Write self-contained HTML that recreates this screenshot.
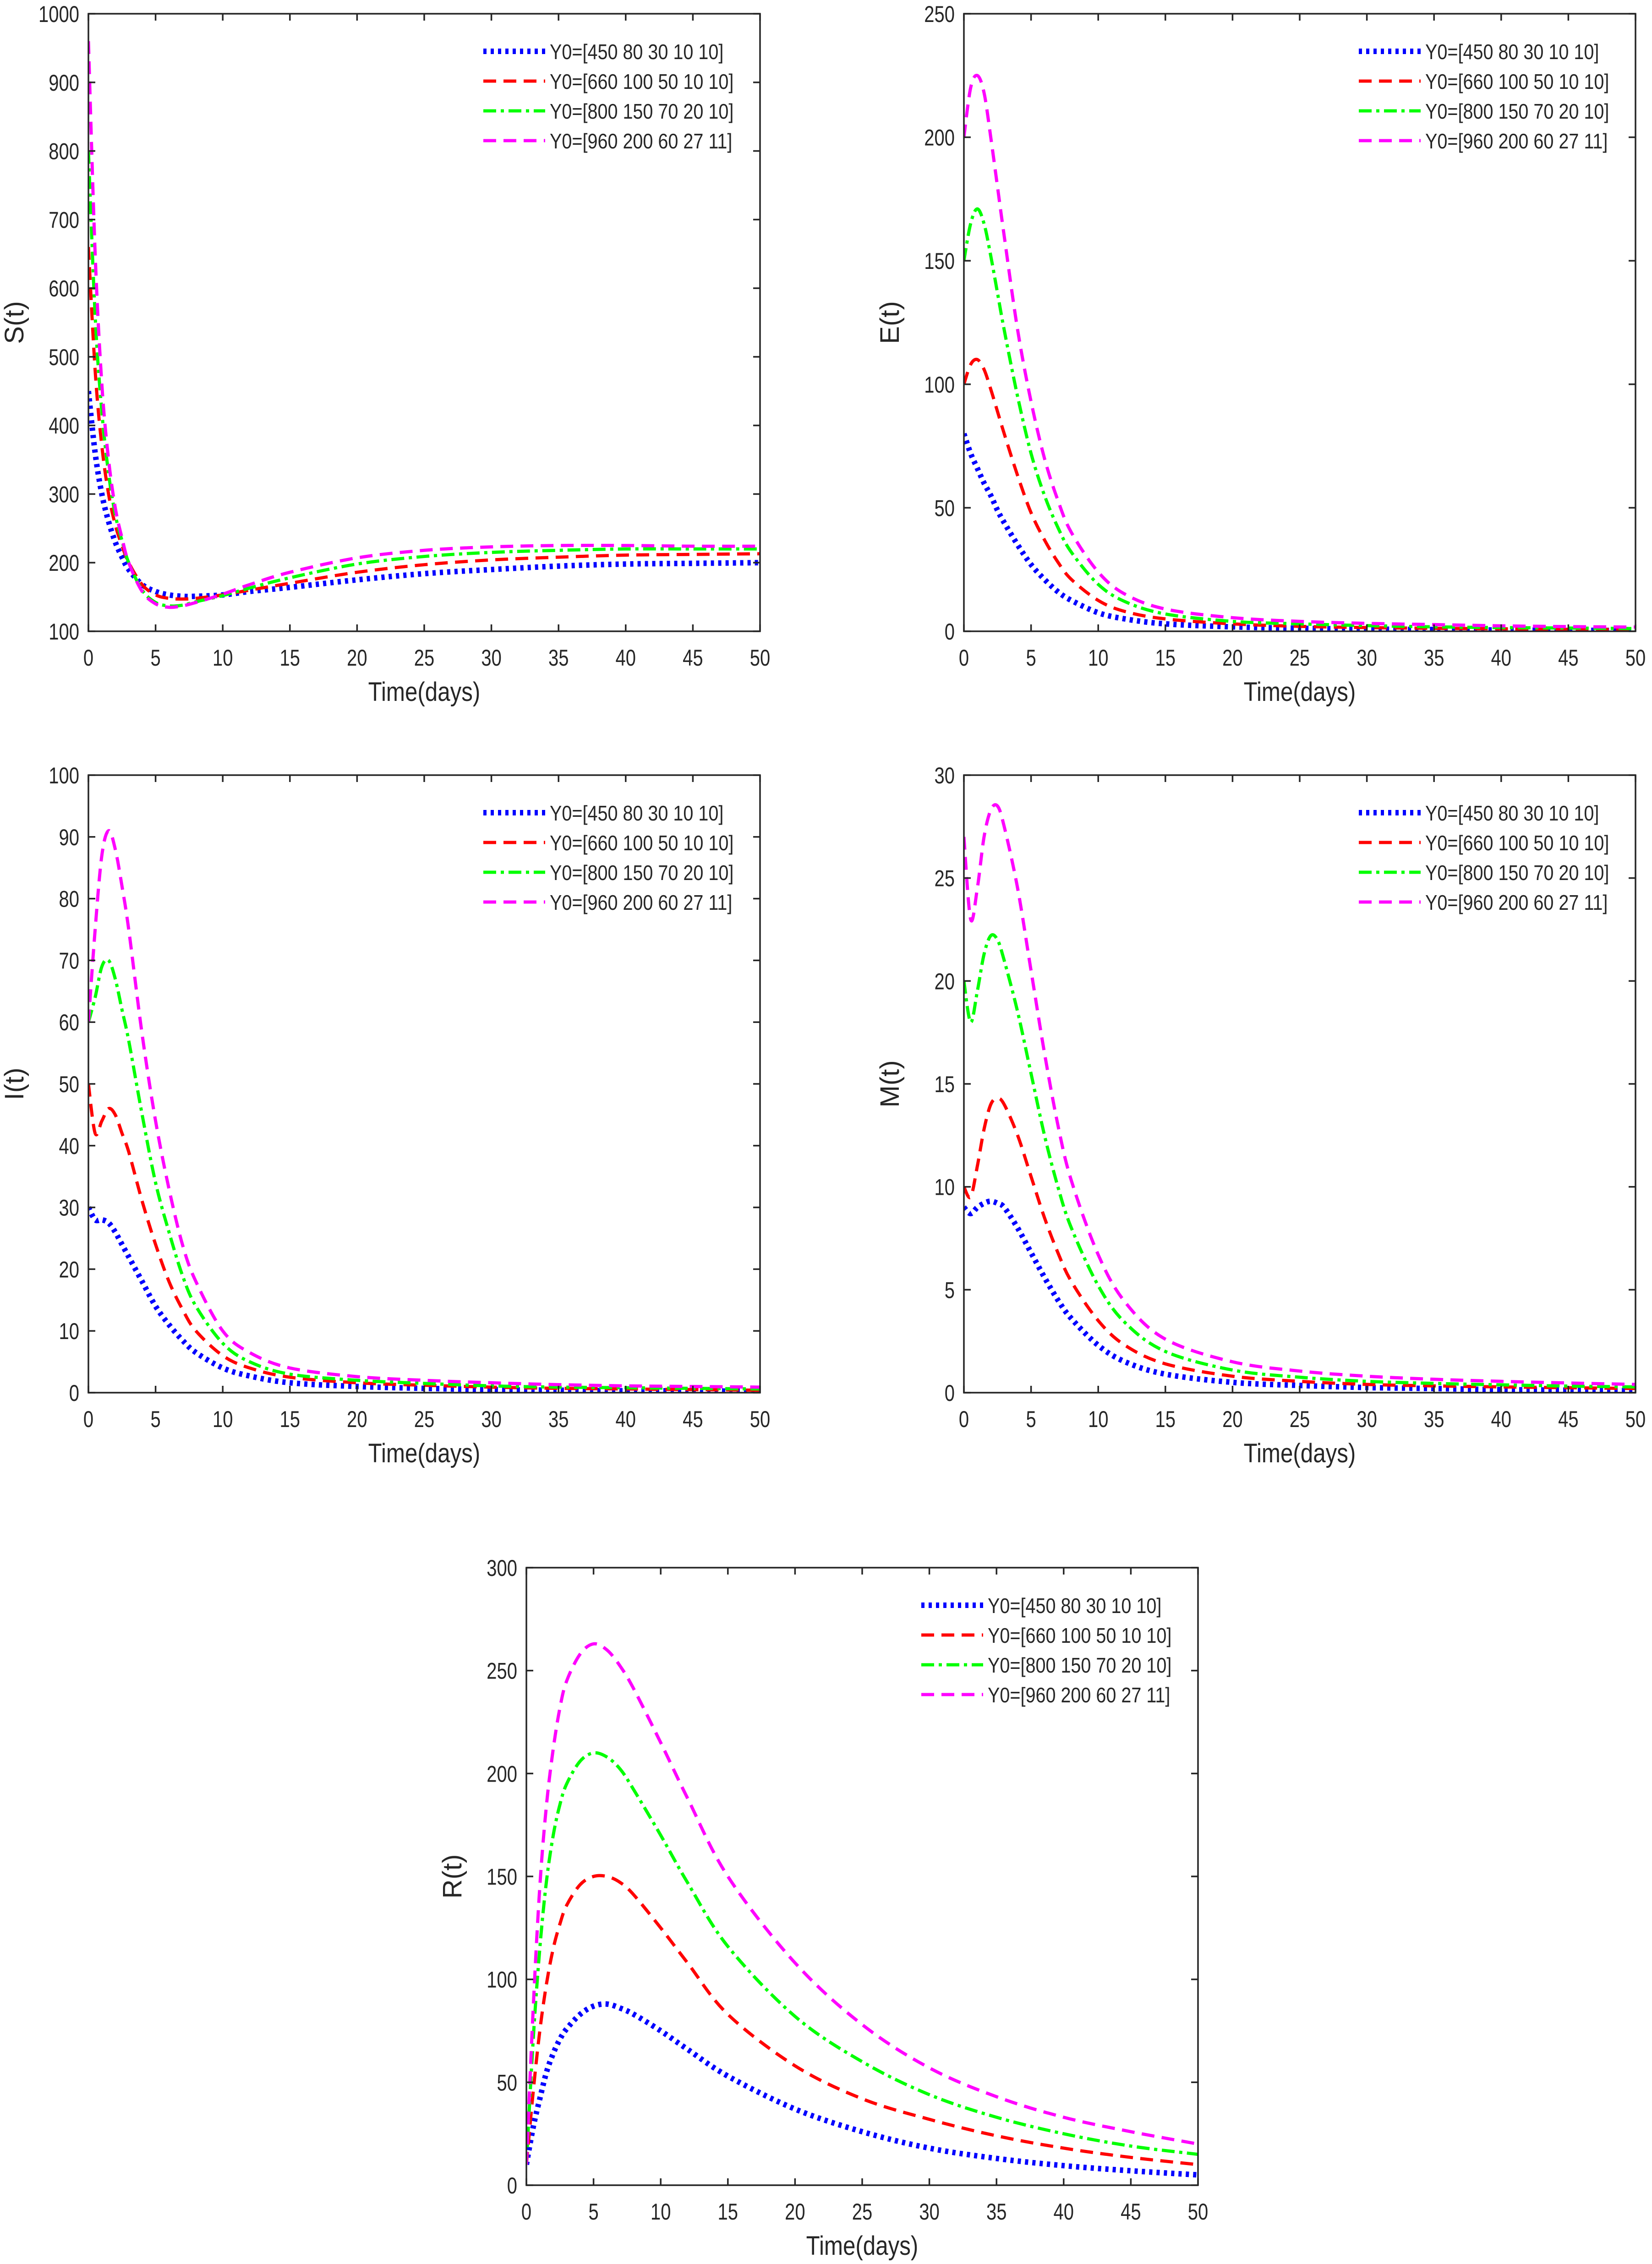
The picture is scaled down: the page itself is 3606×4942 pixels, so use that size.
<!DOCTYPE html>
<html><head><meta charset="utf-8">
<style>
html,body{margin:0;padding:0;background:#fff;}
svg{display:block;}
text{font-family:"Liberation Sans",sans-serif;fill:#262626;}
</style></head>
<body>
<svg id="fig" width="3606" height="4942" viewBox="0 0 3606 4942" xmlns="http://www.w3.org/2000/svg"></svg>
<script>
const T = [0,0.5,1,1.5,2,2.5,3,4,5,6,7,8,10,12,15,20,25,30,35,40,45,50];
const legendLabels = ["Y0=[450 80 30 10 10]","Y0=[660 100 50 10 10]","Y0=[800 150 70 20 10]","Y0=[960 200 60 27 11]"];
const xTicks = [0,5,10,15,20,25,30,35,40,45,50];

const S_blue = [450,360,300,260,230,208,190,168,158,153,151,151,153,158,164,175,184,190,195,198,199,200];
const S_red  = [660,480,370,300,255,225,200,168,153,148,147,148,153,160,170,186,197,204,208,211,212,213];
const S_green= [800,560,420,330,270,232,200,160,142,137,138,143,152,163,178,198,209,215,218,220,220,220];
const S_mag  = [960,650,460,350,280,236,200,158,140,135,137,142,154,168,186,207,218,223,225,225,224,224];
const S_ticks = [100,200,300,400,500,600,700,800,900,1000];

const E_blue = [80,72,66,60,55,49,44,35,27,21,16,12.5,7.5,5,3,1.8,1.2,0.9,0.7,0.5,0.4,0.3];
const E_red  = [100,108,110,106,98,89,80,63,48,37,28,21,12.5,8,5,3,2,1.5,1.2,1,0.8,0.7];
const E_green= [150,165,171,165,152,137,122,95,72,55,42,32,19,12,7,4,3,2.3,1.8,1.5,1.3,1.1];
const E_mag  = [200,220,225,218,200,180,160,122,93,70,53,40,24,15,9,5.5,4,3.2,2.7,2.2,1.9,1.7];
const E_ticks = [0,50,100,150,200,250];

const I_blue = [30,28,28,27.5,26,24,22,18,14,11,8.5,6.5,4,2.7,1.6,1,0.7,0.5,0.4,0.3,0.3,0.2];
const I_red  = [50,42,44,46,45,42,39,31,24,18,13.5,10,6,4,2.5,1.6,1.2,0.9,0.7,0.6,0.5,0.4];
const I_green= [60,64,69,70,67,62,57,45,34,26,19,14,8,5,3,2,1.5,1.1,0.9,0.8,0.7,0.6];
const I_mag  = [60,75,87,91,88,82,75,58,44,33,24,18,10,6.5,4,2.6,2,1.6,1.3,1.1,1,0.9];
const I_ticks = [0,10,20,30,40,50,60,70,80,90,100];

const M_blue = [9,8.7,9,9.2,9.3,9.2,9,8,6.8,5.6,4.5,3.6,2.3,1.5,0.9,0.5,0.35,0.25,0.2,0.15,0.12,0.1];
const M_red  = [10,9.5,11,12.8,14,14.3,14,12.5,10.5,8.5,6.8,5.4,3.5,2.3,1.4,0.8,0.55,0.4,0.33,0.28,0.24,0.2];
const M_green= [20,18,19.5,21.3,22.2,22,21,18.5,15.5,12.5,10,8,5.2,3.4,2,1.1,0.75,0.55,0.45,0.38,0.32,0.28];
const M_mag  = [27,23,24.5,27,28.3,28.5,27.5,24.5,20.5,16.5,13,10.3,6.7,4.4,2.6,1.5,1.05,0.8,0.65,0.55,0.47,0.4];
const M_ticks = [0,5,10,15,20,25,30];

const R_blue = [10,28,42,55,64,71,76,83,87,88,86,83,75,66,53,37,26,18,13,9.5,7,5];
const R_red  = [10,45,75,98,115,127,136,146,150,150,147,141,125,108,83,58,42,32,24,18,13.5,10];
const R_green= [10,70,115,148,170,185,195,206,210,208,202,192,170,147,116,82,60,44,33,25,19,15];
const R_mag  = [10,85,145,185,212,232,245,258,263,260,252,241,215,188,150,108,78,57,43,33,26,20];
const R_ticks = [0,50,100,150,200,250,300];

const NS = "http://www.w3.org/2000/svg";
const svg = document.getElementById('fig');
function el(tag, attrs, parent){
  const e = document.createElementNS(NS, tag);
  for (const k in attrs) e.setAttribute(k, attrs[k]);
  (parent||svg).appendChild(e);
  return e;
}
function txt(parent, x, y, size, anchor, content, sx, rot){
  const t = el('text', {x:0, y:0, 'font-size':size, 'text-anchor':anchor,
    transform:'translate('+x+','+y+')'+(rot?' rotate('+rot+')':'')+' scale('+sx+',1)'}, parent);
  t.textContent = content;
  return t;
}
const styles = [
  {stroke:"#0000ff", w:12, dash:"7 9"},
  {stroke:"#ff0000", w:7, dash:"28 16"},
  {stroke:"#00ff00", w:7, dash:"28 10 7 10"},
  {stroke:"#ff00ff", w:7, dash:"28 16"}
];
const W = 1466, H = 1348;
function smoothPath(pts){
  let d = "M"+pts[0][0].toFixed(1)+","+pts[0][1].toFixed(1);
  for (let i=0;i<pts.length-1;i++){
    const p0 = pts[i-1]||pts[i], p1=pts[i], p2=pts[i+1], p3=pts[i+2]||pts[i+1];
    const c1x = p1[0]+(p2[0]-p0[0])/6, c1y = p1[1]+(p2[1]-p0[1])/6;
    const c2x = p2[0]-(p3[0]-p1[0])/6, c2y = p2[1]-(p3[1]-p1[1])/6;
    d += " C"+c1x.toFixed(1)+","+c1y.toFixed(1)+" "+c2x.toFixed(1)+","+c2y.toFixed(1)+" "+p2[0].toFixed(1)+","+p2[1].toFixed(1);
  }
  return d;
}
let clipId = 0;
function panel(name, x0, y0, ylabel, yTicks, series){
  const g = el('g', {});
  
  
  const ymin = yTicks[0], ymax = yTicks[yTicks.length-1];
  const xs = t => x0 + t/50*W;
  const ys = v => y0 + H - (v-ymin)/(ymax-ymin)*H;
  el('rect', {x:x0, y:y0, width:W, height:H, fill:'#fff'}, g);
  const cid = 'clip'+(clipId++);
  const cp = el('clipPath', {id:cid}, g);
  el('rect', {x:x0, y:y0, width:W, height:H}, cp);
  series.forEach((vals, i) => {
    const pts = T.map((t,j) => [xs(t), ys(vals[j])]);
    const p = el('path', {d:smoothPath(pts), fill:'none', stroke:styles[i].stroke, 'stroke-width':styles[i].w, 'stroke-dasharray':styles[i].dash, 'clip-path':'url(#'+cid+')'}, g);
    
    
  });
  const box = el('rect', {x:x0, y:y0, width:W, height:H, fill:'none', stroke:'#262626', 'stroke-width':3.5}, g);
  
  
  xTicks.forEach(t => {
    const x = xs(t);
    el('line', {x1:x, y1:y0+H, x2:x, y2:y0+H-15, stroke:'#262626','stroke-width':3.5}, g);
    el('line', {x1:x, y1:y0, x2:x, y2:y0+15, stroke:'#262626','stroke-width':3.5}, g);
    const tx = txt(g, x, y0+H+75, 50, 'middle', t, 0.8);
    
    
  });
  yTicks.forEach(v => {
    const y = ys(v);
    el('line', {x1:x0, y1:y, x2:x0+15, y2:y, stroke:'#262626','stroke-width':3.5}, g);
    el('line', {x1:x0+W, y1:y, x2:x0+W-15, y2:y, stroke:'#262626','stroke-width':3.5}, g);
    const ty = txt(g, x0-20, y+18, 50, 'end', v, 0.8);
    
    
  });
  const xl = txt(g, x0+W/2, y0+H+152, 58, 'middle', 'Time(days)', 0.85);
  
  
  const yl = txt(g, x0-142, y0+H/2, 58, 'middle', ylabel, 1, -90);
  
  
  legendLabels.forEach((lab, i) => {
    const ly = y0 + 82 + i*65;
    const ln = el('line', {x1:x0+862, y1:ly, x2:x0+997, y2:ly, stroke:styles[i].stroke, 'stroke-width':styles[i].w, 'stroke-dasharray':styles[i].dash}, g);
    
    
    const lt = txt(g, x0+1007, ly+17, 46, 'start', lab, 0.86);
    lt.setAttribute('fill', '#000');
    
    
  });
}
panel('s-plot', 193, 30, 'S(t)', S_ticks, [S_blue,S_red,S_green,S_mag]);
panel('e-plot', 2104, 30, 'E(t)', E_ticks, [E_blue,E_red,E_green,E_mag]);
panel('i-plot', 193, 1692, 'I(t)', I_ticks, [I_blue,I_red,I_green,I_mag]);
panel('m-plot', 2104, 1692, 'M(t)', M_ticks, [M_blue,M_red,M_green,M_mag]);
panel('r-plot', 1149, 3422, 'R(t)', R_ticks, [R_blue,R_red,R_green,R_mag]);
</script>
</body></html>
